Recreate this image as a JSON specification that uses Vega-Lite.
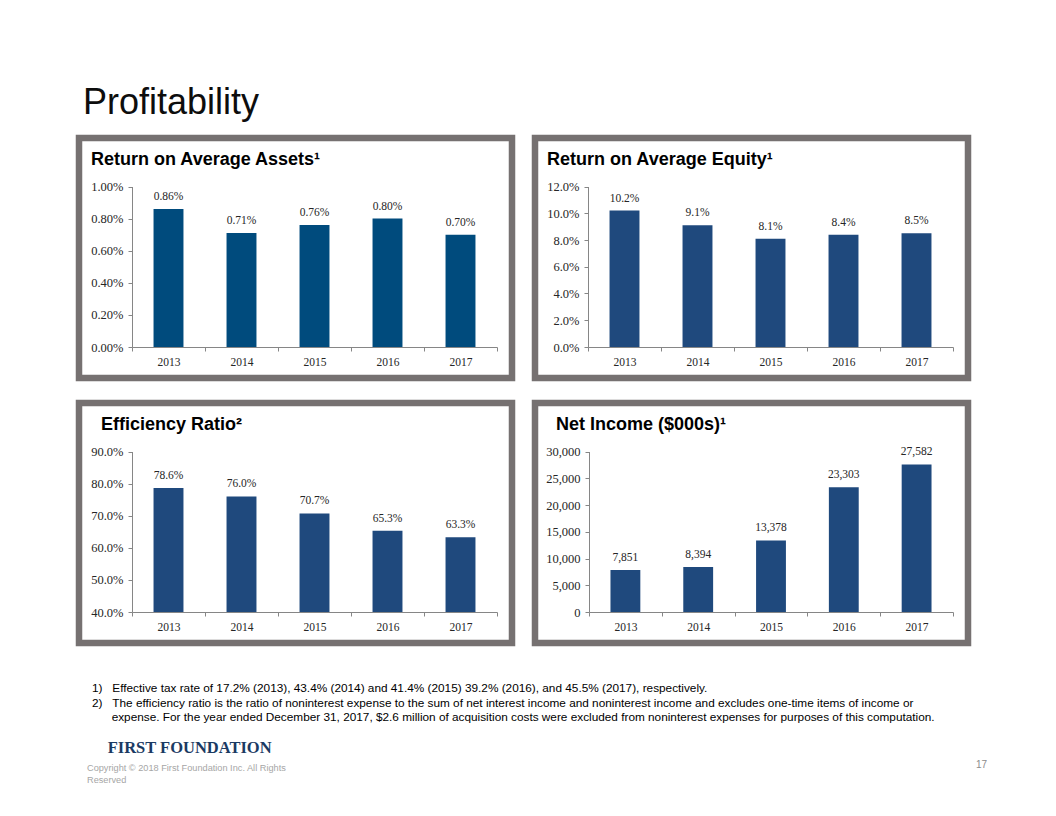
{
  "$schema": "https://vega.github.io/schema/vega-lite/v6.json",
  "background": "white",
  "padding": {"left": 75, "top": 84, "right": 0, "bottom": 0},
  "title": {"text": "Profitability", "anchor": "start", "frame": "group", "font": "Liberation Sans", "fontSize": 36, "fontWeight": "normal", "color": "#0d0d0d", "dx": 4, "offset": -15, "baseline": "alphabetic"},
  "datasets": {
    "roa": [{"year": "2013", "value": 0.0086}, {"year": "2014", "value": 0.0071}, {"year": "2015", "value": 0.0076}, {"year": "2016", "value": 0.0080}, {"year": "2017", "value": 0.0070}],
    "roe": [{"year": "2013", "value": 0.102}, {"year": "2014", "value": 0.091}, {"year": "2015", "value": 0.081}, {"year": "2016", "value": 0.084}, {"year": "2017", "value": 0.085}],
    "eff": [{"year": "2013", "value": 0.786}, {"year": "2014", "value": 0.760}, {"year": "2015", "value": 0.707}, {"year": "2016", "value": 0.653}, {"year": "2017", "value": 0.633}],
    "ni": [{"year": "2013", "value": 7851}, {"year": "2014", "value": 8394}, {"year": "2015", "value": 13378}, {"year": "2016", "value": 23303}, {"year": "2017", "value": 27582}]
  },
  "vconcat": [
    {
      "title": {"text": ["1)\u00a0\u00a0\u00a0Effective tax rate of 17.2% (2013), 43.4% (2014) and 41.4% (2015) 39.2% (2016), and  45.5% (2017), respectively.", "2)\u00a0\u00a0\u00a0The efficiency ratio is the ratio of noninterest expense to the sum of net interest income and noninterest income and excludes one-time items of income or", "\u200b\u00a0\u00a0\u00a0\u00a0\u00a0\u00a0expense. For the year ended December 31, 2017, $2.6 million of acquisition costs were excluded from noninterest expenses for purposes of this computation."], "orient": "bottom", "anchor": "start", "frame": "group", "font": "Liberation Sans", "fontSize": 11.8, "fontWeight": "normal", "color": "#000000", "lineHeight": 14.5, "offset": 46, "dx": 13, "baseline": "alphabetic"},
      "spacing": 17,
      "vconcat": [
        {
          "spacing": 15,
          "hconcat": [
            {
              "width": 433, "height": 240,
              "view": {"stroke": "#767171", "strokeWidth": 6.5, "fill": "white"},
              "title": {"text": "Return on Average Assets¹", "anchor": "start", "frame": "group", "offset": -45, "dx": 12, "font": "Liberation Sans", "fontSize": 18, "fontWeight": "bold", "color": "#000000", "baseline": "alphabetic"},
              "data": {"name": "roa"},
              "encoding": {
                "x": {"field": "year", "type": "nominal", "scale": {"range": [53, 418], "paddingInner": 0, "paddingOuter": 0}, "axis": {"orient": "bottom", "offset": -31, "tickBand": "extent", "labelAngle": 0, "labelPadding": 5, "title": null}},
                "y": {"field": "value", "type": "quantitative", "scale": {"domain": [0, 0.01], "range": [209, 48.5], "nice": false}, "axis": {"offset": -53, "values": [0, 0.002, 0.004, 0.006, 0.008, 0.01], "format": ".2%", "labelPadding": 5, "labelFontSize": 12.5, "title": null}}
              },
              "layer": [
                {"mark": {"type": "bar", "width": {"band": 0.41}, "color": "#004b7d"}},
                {"mark": {"type": "text", "font": "Liberation Serif", "fontSize": 11.5, "color": "#262626", "baseline": "alphabetic", "dy": -9}, "encoding": {"text": {"field": "value", "format": ".2%"}}}
              ]
            },
            {
              "width": 433, "height": 240,
              "view": {"stroke": "#767171", "strokeWidth": 6.5, "fill": "white"},
              "title": {"text": "Return on Average Equity¹", "anchor": "start", "frame": "group", "offset": -45, "dx": 12, "font": "Liberation Sans", "fontSize": 18, "fontWeight": "bold", "color": "#000000", "baseline": "alphabetic"},
              "data": {"name": "roe"},
              "encoding": {
                "x": {"field": "year", "type": "nominal", "scale": {"range": [53, 418], "paddingInner": 0, "paddingOuter": 0}, "axis": {"orient": "bottom", "offset": -31, "tickBand": "extent", "labelAngle": 0, "labelPadding": 5, "title": null}},
                "y": {"field": "value", "type": "quantitative", "scale": {"domain": [0, 0.12], "range": [209, 48.5], "nice": false}, "axis": {"offset": -53, "values": [0, 0.02, 0.04, 0.06, 0.08, 0.10, 0.12], "format": ".1%", "labelPadding": 5, "labelFontSize": 12.5, "title": null}}
              },
              "layer": [
                {"mark": {"type": "bar", "width": {"band": 0.41}, "color": "#1f497d"}},
                {"mark": {"type": "text", "font": "Liberation Serif", "fontSize": 11.5, "color": "#262626", "baseline": "alphabetic", "dy": -9}, "encoding": {"text": {"field": "value", "format": ".1%"}}}
              ]
            }
          ]
        },
        {
          "spacing": 15,
          "hconcat": [
            {
              "width": 433, "height": 240,
              "view": {"stroke": "#767171", "strokeWidth": 6.5, "fill": "white"},
              "title": {"text": "Efficiency Ratio²", "anchor": "start", "frame": "group", "offset": -45, "dx": 22, "font": "Liberation Sans", "fontSize": 18, "fontWeight": "bold", "color": "#000000", "baseline": "alphabetic"},
              "data": {"name": "eff"},
              "encoding": {
                "x": {"field": "year", "type": "nominal", "scale": {"range": [53, 418], "paddingInner": 0, "paddingOuter": 0}, "axis": {"orient": "bottom", "offset": -31, "tickBand": "extent", "labelAngle": 0, "labelPadding": 5, "title": null}},
                "y": {"field": "value", "type": "quantitative", "scale": {"domain": [0.4, 0.9], "range": [209, 48.5], "nice": false, "zero": false, "clamp": true}, "axis": {"offset": -53, "values": [0.4, 0.5, 0.6, 0.7, 0.8, 0.9], "format": ".1%", "labelPadding": 5, "labelFontSize": 12.5, "title": null}}
              },
              "layer": [
                {"mark": {"type": "bar", "width": {"band": 0.41}, "color": "#1f497d"}},
                {"mark": {"type": "text", "font": "Liberation Serif", "fontSize": 11.5, "color": "#262626", "baseline": "alphabetic", "dy": -9}, "encoding": {"text": {"field": "value", "format": ".1%"}}}
              ]
            },
            {
              "width": 433, "height": 240,
              "view": {"stroke": "#767171", "strokeWidth": 6.5, "fill": "white"},
              "title": {"text": "Net Income ($000s)¹", "anchor": "start", "frame": "group", "offset": -45, "dx": 21, "font": "Liberation Sans", "fontSize": 18, "fontWeight": "bold", "color": "#000000", "baseline": "alphabetic"},
              "data": {"name": "ni"},
              "encoding": {
                "x": {"field": "year", "type": "nominal", "scale": {"range": [54, 418], "paddingInner": 0, "paddingOuter": 0}, "axis": {"orient": "bottom", "offset": -31, "tickBand": "extent", "labelAngle": 0, "labelPadding": 5, "title": null}},
                "y": {"field": "value", "type": "quantitative", "scale": {"domain": [0, 30000], "range": [209, 48.5], "nice": false}, "axis": {"offset": -54, "values": [0, 5000, 10000, 15000, 20000, 25000, 30000], "format": ",.0f", "labelPadding": 5, "labelFontSize": 12.5, "title": null}}
              },
              "layer": [
                {"mark": {"type": "bar", "width": {"band": 0.41}, "color": "#1f497d"}},
                {"mark": {"type": "text", "font": "Liberation Serif", "fontSize": 11.5, "color": "#262626", "baseline": "alphabetic", "dy": -9}, "encoding": {"text": {"field": "value", "format": ",.0f"}}}
              ]
            }
          ]
        }
      ]
    },
    {
      "spacing": 0,
      "hconcat": [
        {
          "width": 880, "height": 1,
          "view": {"stroke": null},
          "data": {"values": []},
          "mark": "rect",
          "encoding": {},
          "title": {"text": "\u200b\u00a0\u00a0\u00a0\u00a0\u00a0FIRST FOUNDATION", "subtitle": ["Copyright © 2018 First Foundation Inc. All Rights", "Reserved"], "anchor": "start", "frame": "group", "font": "Liberation Serif", "fontSize": 16.5, "fontWeight": "bold", "color": "#1b3a63", "subtitleFont": "Liberation Sans", "subtitleFontSize": 9.2, "subtitleColor": "#a6a6a6", "subtitleLineHeight": 12, "subtitlePadding": 1, "offset": 0, "dx": 8, "baseline": "alphabetic"}
        },
        {
          "width": 28, "height": 1,
          "view": {"stroke": null},
          "data": {"values": []},
          "mark": "rect",
          "encoding": {},
          "title": {"text": "17", "orient": "top", "anchor": "end", "frame": "group", "font": "Liberation Sans", "fontSize": 10, "fontWeight": "normal", "color": "#8c8c8c", "offset": 20, "baseline": "alphabetic"}
        }
      ]
    }
  ],
  "spacing": 15,
  "config": {
    "view": {"stroke": null},
    "axis": {"domainColor": "#868686", "tickColor": "#868686", "labelFont": "Liberation Serif", "labelFontSize": 11.5, "labelColor": "#262626", "tickSize": 4, "grid": false, "domainWidth": 1, "tickWidth": 1}
  }
}
